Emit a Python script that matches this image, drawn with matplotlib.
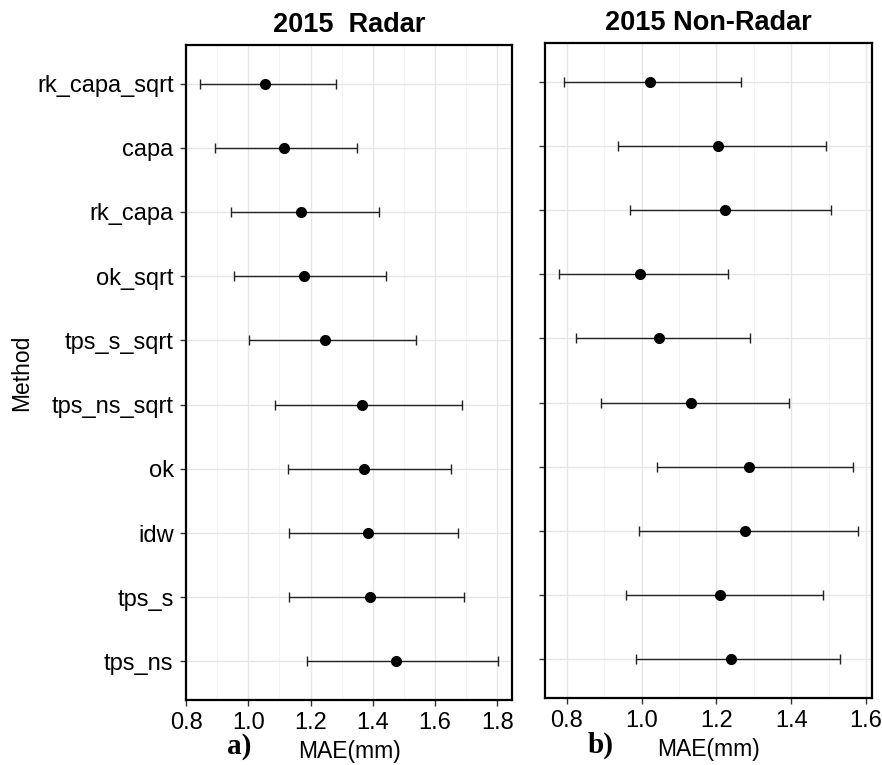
import matplotlib.pyplot as plt
from matplotlib.ticker import MultipleLocator

# Métodos (de cima para baixo)
metodos = ["rk_capa_sqrt", "capa", "rk_capa", "ok_sqrt", "tps_s_sqrt",
           "tps_ns_sqrt", "ok", "idw", "tps_s", "tps_ns"]

# 2015 Radar: média, limite inferior, limite superior
radar_mae = [1.055, 1.115, 1.168, 1.179, 1.247, 1.364, 1.372, 1.384, 1.391, 1.474]
radar_lo = [0.844, 0.893, 0.945, 0.953, 1.002, 1.086, 1.126, 1.131, 1.131, 1.190]
radar_hi = [1.283, 1.348, 1.420, 1.443, 1.540, 1.685, 1.651, 1.673, 1.692, 1.803]

# 2015 Non-Radar
nonradar_mae = [1.022, 1.204, 1.223, 0.996, 1.047, 1.131, 1.288, 1.277, 1.210, 1.238]
nonradar_lo = [0.793, 0.937, 0.968, 0.779, 0.824, 0.893, 1.041, 0.993, 0.959, 0.984]
nonradar_hi = [1.266, 1.493, 1.506, 1.231, 1.291, 1.395, 1.565, 1.578, 1.486, 1.531]

plt.rcParams['font.family'] = ['Liberation Sans', 'DejaVu Sans']

fig = plt.figure(figsize=(8.82, 7.65), dpi=100)
ax1 = fig.add_axes([0.2109, 0.0850, 0.3696, 0.8562])
ax2 = fig.add_axes([0.6179, 0.0876, 0.3704, 0.8562])


def painel(ax, mae, lo, hi, titulo, xlim, ticks, labels):
    ypos = list(range(len(metodos)))
    xerr = [[m - l for m, l in zip(mae, lo)], [h - m for m, h in zip(mae, hi)]]
    ax.errorbar(mae, ypos, xerr=xerr, fmt='o', color='black', ms=7,
                ecolor='#222222', elinewidth=1.0, capsize=3.5, capthick=1.0, zorder=3)
    ax.set_ylim(len(metodos) - 0.4, -0.6)
    ax.set_xlim(*xlim)
    ax.set_yticks(ypos)
    if labels:
        ax.set_yticklabels(metodos, fontsize=17)
    else:
        ax.set_yticklabels([])
    ax.xaxis.set_major_locator(MultipleLocator(0.2))
    ax.xaxis.set_minor_locator(MultipleLocator(0.1))
    ax.set_xticks(ticks)
    ax.set_xticklabels(["%.1f" % t for t in ticks], fontsize=17)
    ax.grid(True, which='major', color='#E6E6E6', linewidth=1.0, zorder=0)
    ax.grid(True, which='minor', axis='x', color='#F3F3F3', linewidth=0.8, zorder=0)
    ax.tick_params(axis='both', which='major', length=4, width=1, color='#333333', pad=5)
    ax.tick_params(axis='x', which='minor', length=0)
    for s in ax.spines.values():
        s.set_linewidth(1.6)
        s.set_color('black')
    ax.set_axisbelow(True)
    ax.set_title(titulo, fontsize=19.5, fontweight='bold', pad=9)
    ax.set_xlabel("MAE(mm)", fontsize=16.5, labelpad=4)


painel(ax1, radar_mae, radar_lo, radar_hi, "2015  Radar", (0.8, 1.847),
       [0.8, 1.0, 1.2, 1.4, 1.6, 1.8], True)
painel(ax2, nonradar_mae, nonradar_lo, nonradar_hi, "2015 Non-Radar", (0.742, 1.615),
       [0.8, 1.0, 1.2, 1.4, 1.6], False)

ax1.set_ylabel("Method", fontsize=16.5, labelpad=3)

fig.text(239 / 882, 1 - 746 / 765, "a)", fontsize=21, fontweight='bold',
         family='Liberation Serif', ha='center', va='center')
fig.text(601 / 882, 1 - 745 / 765, "b)", fontsize=21, fontweight='bold',
         family='Liberation Serif', ha='center', va='center')

fig.savefig("out.png", dpi=100)
